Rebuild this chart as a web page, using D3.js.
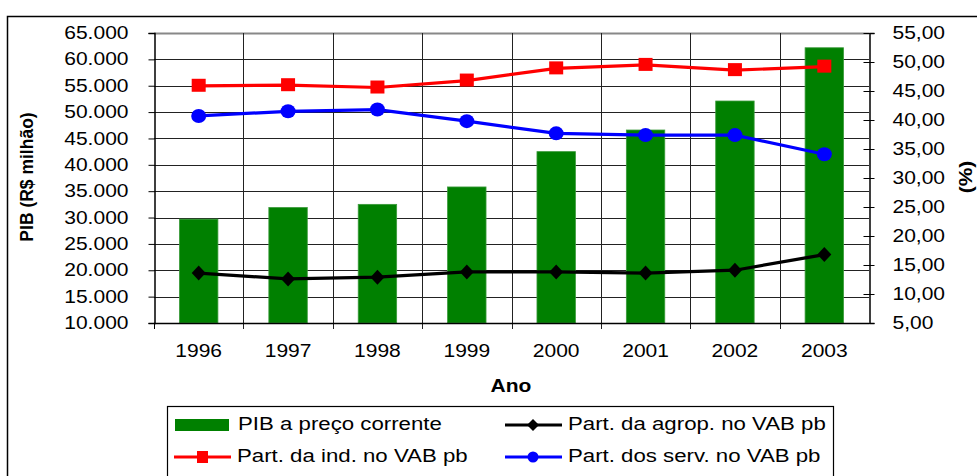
<!DOCTYPE html>
<html>
<head>
<meta charset="utf-8">
<script src="https://cdn.jsdelivr.net/npm/d3@7"></script>
<style>
body { margin: 0; background: #fff; }
text { font-family: "Liberation Sans", Arial, sans-serif; }
</style>
</head>
<body>
<div id="chart"></div>
<script>
var years = ["1996", "1997", "1998", "1999", "2000", "2001", "2002", "2003"];
var pib = [29700, 31900, 32500, 35800, 42500, 46600, 52100, 62200];
var agrop = [13.6, 12.6, 12.9, 13.8, 13.8, 13.6, 14.1, 16.8];
var ind = [45.9, 46.0, 45.6, 46.8, 48.9, 49.5, 48.6, 49.2];
var serv = [40.7, 41.5, 41.8, 39.8, 37.7, 37.4, 37.4, 34.1];
var leftTicks = d3.range(10000, 65001, 5000);
var rightTicks = d3.range(5, 55.01, 5);

var W = 977, H = 476;
var pLeft = 154, pRight = 869, pTop = 33, pBottom = 323;
var FS = 17.5;

var br = d3.formatLocale({decimal: ",", thousands: ".", grouping: [3], currency: ["R$", ""]});
var fmtL = br.format(",.0f");
var fmtR = br.format(",.2f");

var x = d3.scaleBand().domain(years).range([pLeft, pRight]);
var yL = d3.scaleLinear().domain([10000, 65000]).range([pBottom, pTop]);
var yR = d3.scaleLinear().domain([5, 55]).range([pBottom, pTop]);

var svg = d3.select("#chart").append("svg")
  .attr("width", W)
  .attr("height", H);

// outer frame (runs off the right and bottom edges)
svg.append("path")
  .attr("d", "M7.5," + H + "V16.5H" + W)
  .attr("fill", "none")
  .attr("stroke", "#000")
  .attr("stroke-width", 1.5);

// horizontal grid
svg.append("g").selectAll("line")
  .data(leftTicks)
  .join("line")
  .attr("x1", pLeft).attr("x2", pRight)
  .attr("y1", function(d){ return Math.round(yL(d)) + 0.5; })
  .attr("y2", function(d){ return Math.round(yL(d)) + 0.5; })
  .attr("stroke", function(d){ return d == 65000 ? "#888" : "#222"; })
  .attr("stroke-width", function(d){ return d == 65000 ? 2 : 1; });

// vertical grid at category borders
var borders = years.map(function(d){ return x(d); }).slice(1);
svg.append("g").selectAll("line")
  .data(borders)
  .join("line")
  .attr("x1", function(d){ return Math.round(d) + 0.5; })
  .attr("x2", function(d){ return Math.round(d) + 0.5; })
  .attr("y1", pTop).attr("y2", pBottom + 6)
  .attr("stroke", "#222");

// bars
var bw = x.bandwidth() * 0.43;
svg.append("g").selectAll("rect")
  .data(years)
  .join("rect")
  .attr("x", function(d){ return x(d) + (x.bandwidth() - bw) / 2; })
  .attr("y", function(d, i){ return yL(pib[i]); })
  .attr("width", bw)
  .attr("height", function(d, i){ return pBottom - yL(pib[i]); })
  .attr("fill", "#008000")
  .attr("stroke", "#3a9a3a")
  .attr("stroke-width", 0.8);

// axes
var axL = svg.append("g")
  .attr("transform", "translate(" + (pLeft + 0.5) + ",0)")
  .call(d3.axisLeft(yL).tickValues(leftTicks).tickFormat(fmtL).tickSize(6).tickPadding(20));
var axR = svg.append("g")
  .attr("transform", "translate(" + (pRight + 0.5) + ",0)")
  .call(d3.axisRight(yR).tickValues(rightTicks).tickFormat(fmtR).tickSize(5).tickPadding(18));
axR.selectAll(".tick line").attr("x1", -6);
var axB = svg.append("g")
  .attr("transform", "translate(0," + (pBottom + 0.5) + ")")
  .call(d3.axisBottom(x).tickSize(0).tickPadding(21));
axB.selectAll(".tick line").remove();
svg.append("line")
  .attr("x1", pLeft + 0.5).attr("x2", pLeft + 0.5)
  .attr("y1", pBottom).attr("y2", pBottom + 6)
  .attr("stroke", "#000");

[axL, axR, axB].forEach(function(a){
  a.select(".domain").attr("stroke", "#000").attr("stroke-width", 1.5);
  a.selectAll(".tick line").attr("stroke", "#000");
  a.selectAll("text")
    .attr("font-family", "Liberation Sans, Arial, sans-serif")
    .attr("font-size", FS)
    .attr("fill", "#000");
});
axB.select(".domain").remove();
svg.append("line")
  .attr("x1", pLeft).attr("x2", pRight)
  .attr("y1", pBottom + 0.5).attr("y2", pBottom + 0.5)
  .attr("stroke", "#000").attr("stroke-width", 1.5);

// lines
var series = [
  {vals: agrop, color: "#000", shape: "diamond"},
  {vals: serv, color: "#0000ff", shape: "circle"},
  {vals: ind, color: "#ff0000", shape: "square"}
];
var cx = function(i){ return x(years[i]) + x.bandwidth() / 2; };
var line = d3.line()
  .x(function(d, i){ return cx(i); })
  .y(function(d){ return yR(d); });

function marker(g, shape, color, px, py) {
  if (shape == "square") {
    g.append("rect").attr("x", px - 7).attr("y", py - 7).attr("width", 14).attr("height", 13).attr("fill", color);
  } else if (shape == "circle") {
    g.append("ellipse").attr("cx", px).attr("cy", py).attr("rx", 7.5).attr("ry", 7).attr("fill", color);
  } else {
    g.append("path").attr("d", "M" + px + "," + (py - 7.5) + "l7,7.5l-7,7.5l-7,-7.5z").attr("fill", color);
  }
}

series.forEach(function(s){
  var g = svg.append("g");
  g.append("path")
    .attr("d", line(s.vals))
    .attr("fill", "none")
    .attr("stroke", s.color)
    .attr("stroke-width", 3.2);
  s.vals.forEach(function(v, i){ marker(g, s.shape, s.color, cx(i), yR(v)); });
});

// axis titles
svg.append("text")
  .attr("transform", "translate(33,177) rotate(-90)")
  .attr("text-anchor", "middle")
  .attr("font-size", FS).attr("font-weight", "bold")
  .attr("data-stretch", 1.0)
  .text("PIB (R$ milhão)");
svg.append("text")
  .attr("transform", "translate(972,177) rotate(-90)")
  .attr("text-anchor", "middle")
  .attr("font-size", FS).attr("font-weight", "bold")
  .text("(%)");
svg.append("text")
  .attr("x", 511).attr("y", 392)
  .attr("text-anchor", "middle")
  .attr("font-size", FS).attr("font-weight", "bold")
  .text("Ano");

// legend
var lg = svg.append("g");
lg.append("rect")
  .attr("x", 167.5).attr("y", 406.5)
  .attr("width", 666).attr("height", 90)
  .attr("fill", "#fff").attr("stroke", "#000").attr("stroke-width", 1.2);
var items = [
  {label: "PIB a preço corrente", kind: "bar", color: "#008000", x: 175, y: 425},
  {label: "Part. da agrop. no VAB pb", kind: "diamond", color: "#000", x: 505, y: 425},
  {label: "Part. da ind. no VAB pb", kind: "square", color: "#ff0000", x: 174, y: 457},
  {label: "Part. dos serv. no VAB pb", kind: "circle", color: "#0000ff", x: 505, y: 457}
];
items.forEach(function(it){
  if (it.kind == "bar") {
    lg.append("rect").attr("x", it.x).attr("y", it.y - 6).attr("width", 54).attr("height", 12).attr("fill", it.color);
  } else {
    lg.append("line").attr("x1", it.x).attr("x2", it.x + 57).attr("y1", it.y).attr("y2", it.y)
      .attr("stroke", it.color).attr("stroke-width", 3.2);
    var mg = lg.append("g");
    if (it.kind == "square") {
      mg.append("rect").attr("x", it.x + 23).attr("y", it.y - 6).attr("width", 11).attr("height", 12).attr("fill", it.color);
    } else if (it.kind == "circle") {
      mg.append("circle").attr("cx", it.x + 28).attr("cy", it.y).attr("r", 5.5).attr("fill", it.color);
    } else {
      mg.append("path").attr("d", "M" + (it.x + 28) + "," + (it.y - 6) + "l6,6l-6,6l-6,-6z").attr("fill", it.color);
    }
  }
  lg.append("text")
    .attr("x", it.x + 63).attr("y", it.y + 5)
    .attr("font-size", FS)
    .attr("data-stretch", 1.27)
    .text(it.label);
});

// the source chart has horizontally widened type: stretch texts by ~20%
svg.selectAll("text").each(function(){
  var k = +(this.getAttribute("data-stretch") || 1.2);
  var w = this.getComputedTextLength();
  d3.select(this)
    .attr("textLength", w * k)
    .attr("lengthAdjust", "spacingAndGlyphs");
});
</script>
</body>
</html>
